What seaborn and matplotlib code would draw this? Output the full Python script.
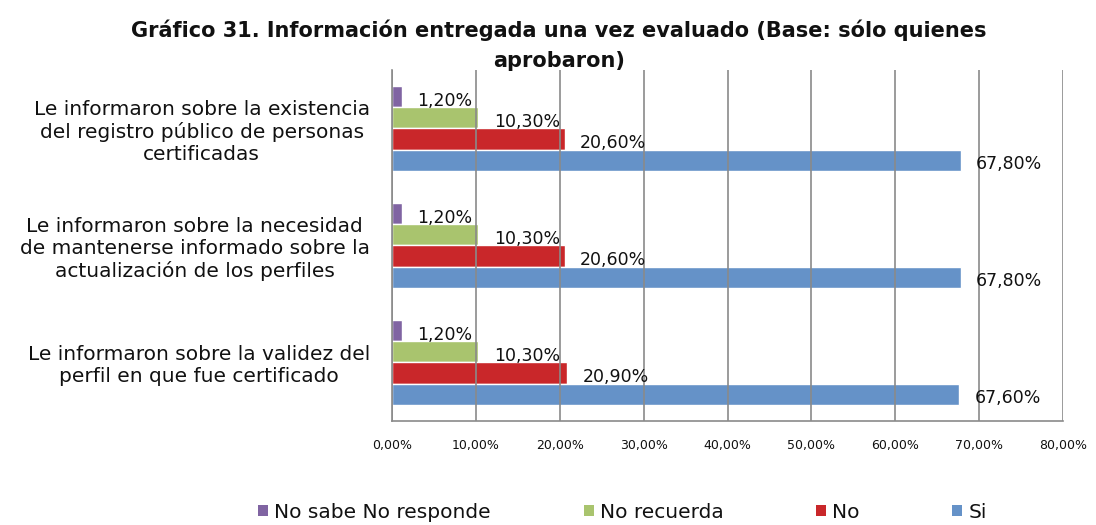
import pandas as pd
import numpy as np
import matplotlib.pyplot as plt
import seaborn as sns
from matplotlib.patches import Patch

categorias = [
    "Le informaron sobre la existencia\ndel registro público de personas\ncertificadas",
    "Le informaron sobre la necesidad\nde mantenerse informado sobre la\nactualización de los perfiles",
    "Le informaron sobre la validez del\nperfil en que fue certificado",
]
respuestas = ["No sabe No responde", "No recuerda", "No", "Si"]
no_sabe = [1.2, 1.2, 1.2]
no_recuerda = [10.3, 10.3, 10.3]
no = [20.6, 20.6, 20.9]
si = [67.8, 67.8, 67.6]
colores = ["#8064A2", "#A9C46E", "#C9272A", "#6592C8"]
ticks = [0, 10, 20, 30, 40, 50, 60, 70, 80]

rows = []
for serie, vals in zip(respuestas, [no_sabe, no_recuerda, no, si]):
    for cat, v in zip(categorias, vals):
        rows.append({"categoria": cat, "respuesta": serie, "valor": v})
df = pd.DataFrame(rows)

sns.set_style("white")
plt.rcParams['font.family'] = ['DejaVu Sans']
plt.rcParams['text.color'] = '#111111'

fig = plt.figure(figsize=(10.96, 5.25), dpi=100)
ax = fig.add_axes([0.3577, 0.1981, 0.6122, 0.6686])

sns.barplot(data=df, y="categoria", x="valor", hue="respuesta",
            order=categorias, hue_order=respuestas, palette=colores,
            orient="h", width=0.72, gap=0.0, ax=ax, legend=False,
            saturation=1, errorbar=None)

# etiquetas de datos, un poco por debajo del centro de la barra (como Excel)
for cont in ax.containers:
    for b in cont:
        w = b.get_width()
        yc = b.get_y() + b.get_height() / 2
        ax.annotate(f"{w:.2f}".replace(".", ",") + "%", xy=(w, yc),
                    xytext=(11, -3), textcoords="offset points",
                    ha="left", va="center", fontsize=12.5, color="#111111")

ax.set_xlim(0, 80)
ax.set_xticks(ticks)
ax.set_xticklabels([f"{t:.2f}".replace(".", ",") + "%" for t in ticks], fontsize=9, color="#111111")
ax.tick_params(axis="x", length=0, pad=13)
ax.tick_params(axis="y", length=0, pad=16)
for lbl in ax.get_yticklabels():
    lbl.set_fontsize(14.5)
    lbl.set_multialignment("center")
    lbl.set_linespacing(1.2)
    lbl.set_color("#111111")
ax.set_xlabel("")
ax.set_ylabel("")

ax.set_axisbelow(False)
ax.grid(axis="x", color="#8a8a8a", linewidth=1.2)
ax.grid(axis="y", visible=False)
for s in ["top", "right"]:
    ax.spines[s].set_visible(False)
for s in ["left", "bottom"]:
    ax.spines[s].set_color("#8a8a8a")
    ax.spines[s].set_linewidth(1.2)

fig.suptitle("Gráfico 31. Información entregada una vez evaluado (Base: sólo quienes\naprobaron)",
             x=0.51, y=0.962, fontsize=15, fontweight="bold", linespacing=1.6, color="#111111")

handles = [Patch(facecolor=c, edgecolor="none") for c in colores]
fig.legend(handles, respuestas, loc="center", bbox_to_anchor=(0.568, 0.024), ncol=4,
           frameon=False, fontsize=14.5, handlelength=0.5, handleheight=0.5,
           handletextpad=0.3, columnspacing=4.6)

fig.savefig("out.png", dpi=100)
